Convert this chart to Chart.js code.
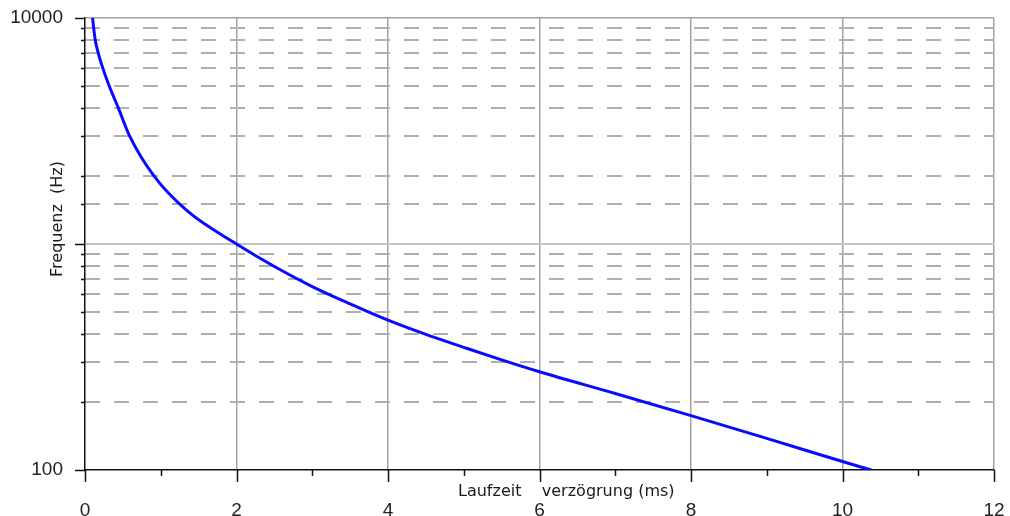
<!DOCTYPE html>
<html>
<head>
<meta charset="utf-8">
<script src="https://cdn.jsdelivr.net/npm/chart.js@4"></script>
<style>
	html, body { margin:0; padding:0; background:#fff; }
	#wrap { width:1010px; height:516px; }
</style>
</head>
<body>
<div id="wrap"><canvas id="delay_chart" width="1010" height="516"></canvas></div>
<script>
// Laufzeitverzögrung vs. Frequenz (log y)
const delayMs = [0.10, 0.115, 0.135, 0.175, 0.235, 0.32, 0.44, 0.59, 0.91, 1.35, 2.00, 2.50, 3.00, 3.50, 4.00, 4.50, 5.00, 5.50, 6.00, 7.00, 8.00, 9.00, 10.00, 10.38]; //x (ms)
const freqHz  = [10000, 9000, 8000, 7000, 6000, 5000, 4000, 3000, 2000, 1400, 1000, 795, 648, 543, 460, 398, 349, 307, 272, 218, 174, 138, 109, 100];  //y (Hz)
const xTickLabels = ['0', '2', '4', '6', '8', '10', '12'];
const yTickLabels = ['100', '10000'];
const xTitle = 'Laufzeit    verzögrung (ms)';
const yTitle = 'Frequenz  (Hz)';

const isMajor = v => Math.abs(Math.log10(v) - Math.round(Math.log10(v))) < 1e-6;

// tick marks + axis titles
const axisDecor = {
	id: 'axisDecor',
	afterDraw(chart) {
		const c = chart.ctx, x = chart.scales.x, y = chart.scales.y;
		const area = chart.chartArea;
		c.save();
		c.strokeStyle = '#111';
		c.lineWidth = 1.5;
		c.beginPath();
		for (let v = 0; v <= 12; v++) {
			const px = Math.round(x.getPixelForValue(v)) + 0.5;
			const len = v % 2 === 0 ? 12 : 6;
			c.moveTo(px, area.bottom);
			c.lineTo(px, area.bottom + len);
		}
		y.ticks.forEach(t => {
			const py = Math.round(y.getPixelForValue(t.value)) + 0.5;
			const len = isMajor(t.value) ? 10 : 4;
			c.moveTo(area.left, py);
			c.lineTo(area.left - len, py);
		});
		c.stroke();

		c.fillStyle = '#1a1a1a';
		c.font = '16px "DejaVu Sans"';
		c.textAlign = 'left';
		c.textBaseline = 'middle';
		c.fillText(xTitle, 458, 492);

		c.translate(58, 219);
		c.rotate(-Math.PI / 2);
		c.textAlign = 'center';
		c.font = '16px "DejaVu Sans"';
		c.fillText(yTitle, 0, 0);
		c.restore();
	}
};

const ctx = document.getElementById('delay_chart').getContext('2d');
const delay_chart = new Chart(ctx, {
	type: 'line',
	plugins: [axisDecor],
	data: {
		datasets: [{
			label: 'Laufzeitverzögrung',
			data: delayMs.map((t, i) => ({ x: t, y: freqHz[i] })),
			borderColor: '#0a0aff',
			borderWidth: 3,
			pointRadius: 0,
			cubicInterpolationMode: 'monotone',
			fill: false,
		}]
	},
	options: {
		responsive: false,
		animation: false,
		layout: { padding: { left: 0, right: 16, top: 18, bottom: 0 } },
		plugins: {
			legend: { display: false },
			tooltip: { enabled: false },
		},
		scales: {
			x: {
				type: 'linear',
				min: 0,
				max: 12,
				afterFit: s => { s.height = 46; s.paddingLeft = 0; s.paddingRight = 0; },
				ticks: {
					stepSize: 1,
					padding: 29,
					maxRotation: 0,
					autoSkip: false,
					color: '#222',
					font: { family: 'Liberation Sans', size: 19 },
					callback: v => xTickLabels.includes(String(v)) ? String(v) : '',
				},
				grid: {
					drawTicks: false,
					lineWidth: 1.5,
					color: c => (c.tick && c.tick.value % 2 === 0 && c.tick.value > 0) ? '#a2a2a2' : 'rgba(0,0,0,0)',
				},
				border: { color: '#111', width: 1.5 },
			},
			y: {
				type: 'logarithmic',
				position: 'left',
				min: 100,
				max: 10000,
				afterFit: s => { s.width = 85; s.paddingTop = 0; s.paddingBottom = 0; },
				ticks: {
					padding: 22,
					autoSkip: false,
					color: '#222',
					font: { family: 'Liberation Sans', size: 19 },
					callback: v => yTickLabels.includes(String(v)) ? String(v) : '',
				},
				grid: {
					drawTicks: false,
					lineWidth: c => (c.tick && c.tick.value === 1000) ? 2 : 1.5,
					color: c => {
						if (!c.tick) return 'rgba(0,0,0,0)';
						if (c.tick.value === 1000) return '#c4c4c4';
						if (c.tick.value === 10000) return '#a2a2a2';
						return 'rgba(0,0,0,0)';
					},
				},
				border: { color: '#111', width: 1.5 },
			},
			y2: { // minor dashed grid
				type: 'logarithmic',
				position: 'left',
				min: 100,
				max: 10000,
				afterFit: s => { s.width = 0; s.paddingTop = 0; s.paddingBottom = 0; },
				ticks: { display: false },
				grid: {
					drawTicks: false,
					lineWidth: 2,
					color: c => (c.tick && !isMajor(c.tick.value)) ? '#b0b0b0' : 'rgba(0,0,0,0)',
				},
				border: { display: false, dash: [15, 14] },
			},
		},
	}
});
</script>
</body>
</html>
